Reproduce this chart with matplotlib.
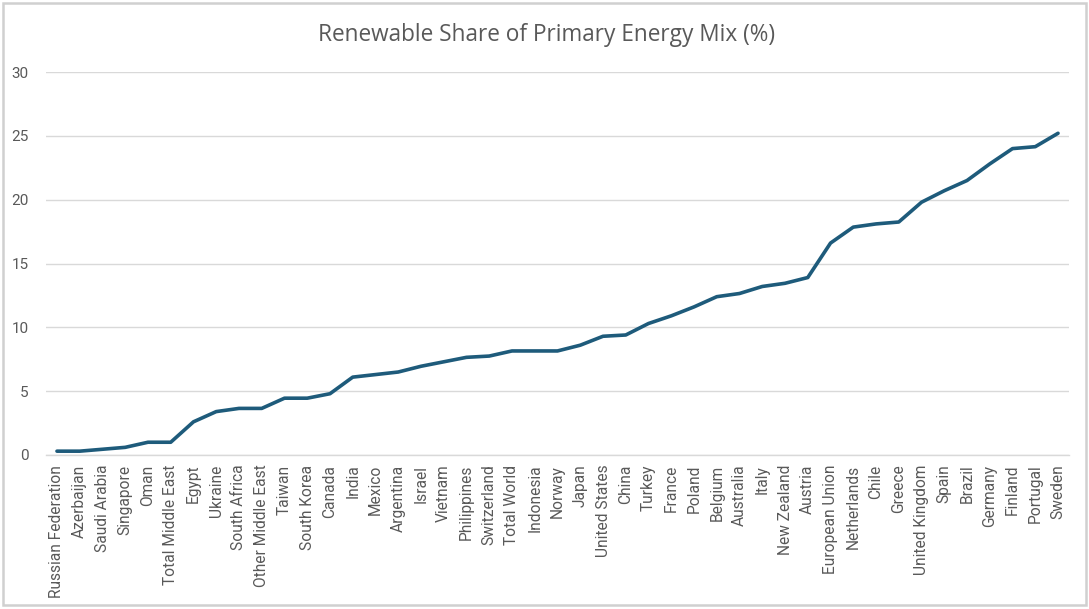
import matplotlib
matplotlib.use("Agg")
import matplotlib.pyplot as plt
from matplotlib.patches import Rectangle

countries = ["Russian Federation", "Azerbaijan", "Saudi Arabia", "Singapore", "Oman",
             "Total Middle East", "Egypt", "Ukraine", "South Africa", "Other Middle East",
             "Taiwan", "South Korea", "Canada", "India", "Mexico", "Argentina", "Israel",
             "Vietnam", "Philippines", "Switzerland", "Total World", "Indonesia", "Norway",
             "Japan", "United States", "China", "Turkey", "France", "Poland", "Belgium",
             "Australia", "Italy", "New Zealand", "Austria", "European Union", "Netherlands",
             "Chile", "Greece", "United Kingdom", "Spain", "Brazil", "Germany", "Finland",
             "Portugal", "Sweden"]
share = [0.3, 0.3, 0.45, 0.6, 1.0, 1.0, 2.6, 3.4, 3.65, 3.65,
         4.45, 4.45, 4.8, 6.1, 6.3, 6.5, 6.95, 7.3, 7.65, 7.75,
         8.15, 8.15, 8.15, 8.6, 9.3, 9.4, 10.3, 10.9, 11.6, 12.4,
         12.65, 13.2, 13.45, 13.9, 16.6, 17.85, 18.1, 18.25, 19.8, 20.7,
         21.5, 22.8, 24.0, 24.15, 25.2]
y_ticks = [0, 5, 10, 15, 20, 25, 30]
title = "Renewable Share of Primary Energy Mix (%)"

W, H = 1089, 609
fig = plt.figure(figsize=(W / 100, H / 100), dpi=100)
fig.patch.set_facecolor("white")

# outer border
fig.add_artist(Rectangle((3 / W, 4 / H), (W - 6) / W, (H - 7) / H, transform=fig.transFigure,
                         fill=False, edgecolor="#d0d0d0", linewidth=1.8))

left, right, top, bottom = 45.6, 1069.4, 72, 455
ax = fig.add_axes([left / W, 1 - bottom / H, (right - left) / W, (bottom - top) / H])

x = list(range(len(countries)))
ax.plot(x, share, color="#1e5b7b", linewidth=2.6, solid_joinstyle="round", solid_capstyle="round", zorder=3)

ax.set_xlim(-0.5, len(countries) - 0.5)
ax.set_ylim(0, 30)
ax.set_yticks(y_ticks)
ax.set_yticklabels([str(v) for v in y_ticks])
ax.set_xticks(x)
ax.set_xticklabels(countries, rotation=90)

for lab in ax.get_xticklabels():
    lab.set_family(["Roboto", "DejaVu Sans"])
    lab.set_fontsize(11.2)
    lab.set_color("#595959")
for lab in ax.get_yticklabels():
    lab.set_family(["Roboto", "DejaVu Sans"])
    lab.set_fontsize(11)
    lab.set_color("#595959")

ax.tick_params(axis="both", length=0)
ax.tick_params(axis="x", pad=7)
ax.tick_params(axis="y", pad=12)
ax.grid(axis="y", color="#d9d9d9", linewidth=1.0)
ax.set_axisbelow(True)
for s in ["top", "right", "left"]:
    ax.spines[s].set_visible(False)
ax.spines["bottom"].set_color("#d9d9d9")
ax.spines["bottom"].set_linewidth(1.0)
ax.set_facecolor("none")

fig.text(546 / W, 1 - 41 / H, title, ha="center", va="baseline", fontsize=16.3,
         color="#595959", family=["Open Sans", "DejaVu Sans"])

fig.savefig("out.png", dpi=100, facecolor="white")
